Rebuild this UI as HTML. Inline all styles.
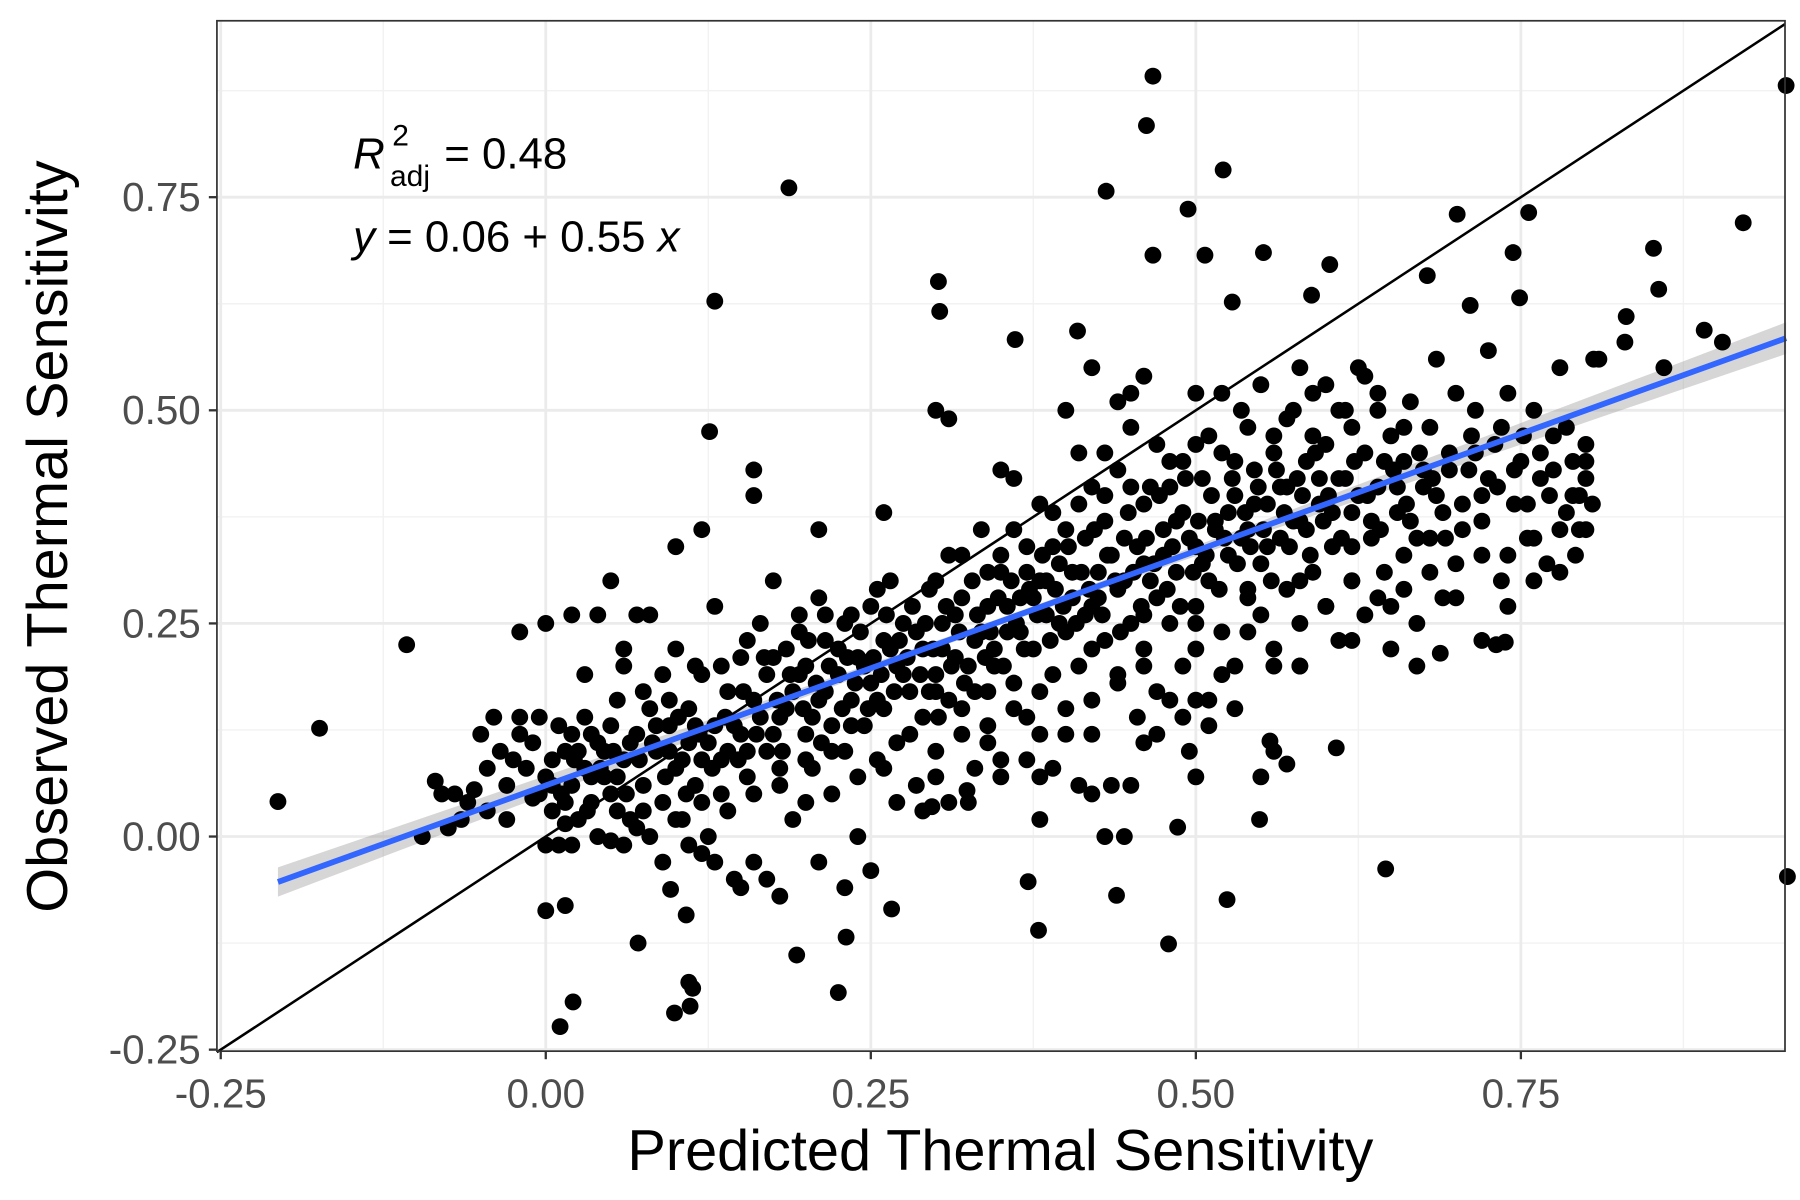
<!DOCTYPE html>
<html><head><meta charset="utf-8">
<style>
html,body{margin:0;padding:0;background:#fff;}
svg{display:block;font-family:"Liberation Sans",Arial,sans-serif;}
</style></head>
<body>
<svg id="chart" width="1800" height="1200" viewBox="0 0 1560 1040" xmlns="http://www.w3.org/2000/svg">
<rect x="0" y="0" width="1560" height="1040" fill="#fff"/>
<g id="grid"></g>
<g id="ribbon"></g>
<g id="points"></g>
<g id="lines"></g>
<rect x="188" y="18" width="1359" height="893" fill="none" stroke="#333" stroke-width="1.5"/>
<g id="axes"></g>
<text x="867" y="1014" font-size="50" text-anchor="middle" fill="#000">Predicted Thermal Sensitivity</text>
<text transform="translate(58,465) rotate(-90)" font-size="50" text-anchor="middle" fill="#000">Observed Thermal Sensitivity</text>
<g font-size="38" fill="#000">
<text x="306" y="146" font-style="italic">R</text>
<text x="340" y="126" font-size="26">2</text>
<text x="338" y="161" font-size="26">adj</text>
<text x="385" y="146">= 0.48</text>
</g>
<text x="306" y="218" font-size="38" fill="#000"><tspan font-style="italic">y</tspan> = 0.06 + 0.55 <tspan font-style="italic">x</tspan></text>
</svg>
<script>
const xTicks = [-0.25, 0, 0.25, 0.5, 0.75];
const xTickLabels = ["-0.25", "0.00", "0.25", "0.50", "0.75"];
const yTicks = [-0.25, 0, 0.25, 0.5, 0.75];
const yTickLabels = ["-0.25", "0.00", "0.25", "0.50", "0.75"];
const fitIntercept = 0.06;
const fitSlope = 0.55;
const fitRange = [-0.206, 0.954];
const ptX = [-0.206,-0.174,-0.107,0.187,0.130,0.126,0.467,0.462,0.521,0.431,0.494,0.467,0.507,0.552,0.302,0.303,0.701,0.756,0.921,0.852,0.954,0.955,0.646,0.479,0.524,0.379,0.371,0.439,0.011,0.021,0.099,0.111,0.110,0.113,0.193,0.225,0.071,0.000,0.015,0.231,0.266,0.108,0.096,0.603,0.528,0.589,0.711,0.749,0.744,0.361,0.409,0.831,0.806,0.891,0.905,0.856,0.678,0.608,0.549,0.486,0.557,0.570,0.550,0.324,0.297,0.688,0.731,0.738,
-0.095,-0.085,-0.075,-0.07,-0.06,-0.055,-0.05,-0.045,-0.04,-0.035,-0.03,-0.03,-0.02,-0.02,-0.015,-0.01,-0.01,-0.005,0.0,0.0,0.005,0.005,0.01,0.01,0.015,0.02,0.02,0.025,0.03,0.03,0.035,0.04,0.04,0.045,0.05,0.05,0.055,0.06,0.06,0.065,0.07,0.07,0.075,0.08,0.08,0.085,0.09,0.09,0.095,0.1,0.1,0.105,0.11,0.11,0.115,0.12,0.12,0.125,0.13,0.13,0.135,0.14,0.14,0.145,0.15,0.15,0.155,0.16,0.16,0.165,0.17,0.17,0.175,0.18,0.18,0.185,0.19,0.19,0.195,0.2,0.2,0.205,0.21,0.21,0.215,0.22,0.22,0.225,0.23,0.23,0.235,0.24,0.24,0.245,0.25,0.25,0.255,0.26,0.26,0.265,0.27,0.27,0.275,0.28,0.285,0.29,0.29,0.295,0.3,0.3,0.305,0.31,0.31,0.315,0.32,0.32,0.325,0.33,0.33,0.335,0.34,0.34,0.345,0.35,0.35,0.355,0.36,0.36,0.365,0.37,0.37,0.375,0.38,0.38,0.385,0.39,0.39,0.395,0.4,0.4,0.405,0.41,0.41,0.415,0.42,0.42,0.425,0.43,0.43,0.435,0.44,0.44,0.445,0.45,0.45,0.455,0.46,0.46,0.465,0.47,0.47,0.475,0.48,0.48,0.485,0.49,0.49,0.495,0.5,0.5,0.505,0.51,0.51,0.515,0.52,0.52,0.525,0.53,0.53,0.535,0.54,0.54,0.545,0.55,0.55,0.555,0.56,0.56,0.565,0.57,0.57,0.575,0.58,0.58,0.585,0.59,0.59,0.595,0.6,0.6,0.605,0.61,0.61,0.615,0.62,0.62,0.625,0.63,0.63,0.635,0.64,0.64,0.645,0.65,0.65,0.655,0.66,0.66,0.665,0.67,0.67,0.675,0.68,0.68,0.685,0.69,0.695,0.7,0.7,0.705,0.71,0.715,0.72,0.72,0.725,0.73,0.735,0.74,0.745,0.75,0.755,0.76,0.765,0.77,0.775,0.78,0.785,0.79,0.795,0.8,0.8,0.81,0.83,0.86,
0.012,0.022,0.032,0.042,0.052,0.062,0.072,0.082,0.092,0.102,0.108,0.118,0.128,0.138,0.148,0.152,0.162,0.168,0.178,0.182,0.188,0.198,0.202,0.208,0.212,0.218,0.228,0.232,0.238,0.242,0.248,0.252,0.258,0.262,0.268,0.272,0.278,0.282,0.288,0.292,0.298,0.302,0.308,0.312,0.318,0.322,0.328,0.332,0.338,0.342,0.348,0.352,0.358,0.362,0.368,0.372,0.378,0.382,0.388,0.392,0.398,0.402,0.408,0.412,0.418,0.422,0.428,0.432,0.438,0.442,0.448,0.452,0.458,0.462,0.468,0.472,0.478,0.482,0.488,0.492,0.498,0.502,0.508,0.512,0.518,0.522,0.528,0.532,0.538,0.542,0.548,0.552,0.558,0.562,0.568,0.572,0.578,0.582,0.588,0.592,0.598,0.602,0.612,0.622,0.632,0.642,0.652,0.662,0.672,0.682,0.692,0.712,0.732,0.752,0.772,0.792,0.805,
0.45,0.47,0.5,0.53,0.56,0.58,0.62,0.65,0.67,0.69,0.72,0.74,0.76,0.78,0.8,0.79,
0.1,0.12,0.16,0.16,0.21,0.26,0.3,0.31,0.35,0.4,0.43,0.44,0.45,0.5,0.46,0.42,0.04,0.05,0.08,0.06,0.03,-0.02,0.0,0.02,
0.02,0.06,0.09,0.12,0.13,0.15,0.17,0.18,0.2,0.21,0.23,0.25,0.27,0.29,0.31,0.33,0.35,0.37,0.39,0.38,0.41,0.42,0.43,0.445,0.46,0.49,0.51,0.5,
0.005,0.015,0.025,0.035,0.045,0.055,0.065,0.075,0.085,0.095,0.105,0.115,0.125,0.135,0.145,0.155,0.165,0.175,0.185,0.195,0.205,0.215,0.225,0.235,0.245,0.255,0.265,0.275,0.285,0.295,0.305,0.315,0.325,0.335,0.345,0.355,0.365,0.375,0.385,0.395,0.405,0.415,0.425,0.435,0.445,0.455,0.465,0.475,0.485,0.495,0.505,0.515,0.525,0.535,0.545,0.555,0.565,0.575,0.585,0.595,0.605,0.615,0.625,0.635,0.645,0.655,0.665,0.675,0.685,0.695,0.705,0.715,0.725,0.735,0.745,0.755,0.765,0.775,0.785,0.795,
0.3,0.32,0.34,0.36,0.38,0.4,0.42,0.44,0.46,0.47,0.49,0.51,0.53,0.54,0.56,0.57,0.59,0.61,0.62,0.64,0.66,0.52,0.55,0.58,0.6,0.63,0.5,0.48,0.45,0.43,0.41,0.39,0.37,0.35,
0.26,0.28,0.3,0.32,0.34,0.36,0.38,0.4,0.42,0.44,0.46,0.48,0.5,0.52,0.54,0.56,0.58,0.6,0.62,0.64,0.66,0.68,0.7,0.72,0.74,0.76,0.78,0.8,0.3,0.34,0.38,0.42,0.46,0.5,0.54,0.58,0.62,
-0.08,-0.065,-0.045,-0.025,-0.005,0.015,0.035,0.055,0.075,0.095,0.115,0.135,0.155,0.175,0.195,0.215,0.235,0.255,0.1,0.12,0.14,0.16,0.18,0.2,0.22,0.24,0.05,0.07,0.11];
const ptY = [0.041,0.127,0.225,0.761,0.628,0.475,0.892,0.834,0.782,0.757,0.736,0.682,0.682,0.685,0.651,0.616,0.730,0.732,0.720,0.690,0.881,-0.047,-0.038,-0.126,-0.074,-0.110,-0.053,-0.069,-0.223,-0.194,-0.207,-0.199,-0.171,-0.178,-0.139,-0.183,-0.125,-0.087,-0.081,-0.118,-0.085,-0.092,-0.062,0.671,0.627,0.635,0.623,0.632,0.685,0.583,0.593,0.610,0.560,0.594,0.580,0.642,0.658,0.104,0.020,0.011,0.112,0.085,0.070,0.054,0.035,0.215,0.225,0.228,
0.0,0.065,0.01,0.05,0.04,0.055,0.12,0.03,0.14,0.1,0.02,0.06,0.14,0.12,0.08,0.11,0.045,0.14,0.07,-0.01,0.09,0.03,0.13,-0.01,0.1,0.12,0.06,0.02,0.14,0.08,0.04,0.11,0.0,0.07,0.13,0.05,0.16,0.2,0.09,0.02,0.12,0.26,0.06,0.15,0.0,0.1,0.19,0.04,0.13,0.08,0.22,0.02,0.15,0.11,0.06,0.19,0.09,0.0,0.13,0.27,0.05,0.17,0.1,-0.05,0.21,0.12,0.07,0.16,-0.03,0.25,0.1,0.19,0.3,0.06,0.14,0.22,0.17,0.02,0.26,0.12,0.2,0.08,0.16,0.28,0.23,0.13,0.05,0.19,0.25,0.1,0.16,0.21,0.0,0.13,0.27,0.18,0.09,0.23,0.15,0.3,0.2,0.11,0.25,0.17,0.06,0.22,0.14,0.29,0.19,0.1,0.25,0.33,0.16,0.21,0.12,0.28,0.04,0.23,0.17,0.36,0.27,0.13,0.2,0.31,0.09,0.24,0.18,0.42,0.28,0.14,0.34,0.22,0.3,0.07,0.26,0.19,0.38,0.32,0.24,0.12,0.28,0.45,0.2,0.35,0.27,0.16,0.31,0.23,0.4,0.06,0.29,0.19,0.35,0.25,0.48,0.14,0.32,0.22,0.41,0.28,0.17,0.36,0.25,0.44,0.31,0.2,0.38,0.1,0.34,0.27,0.42,0.3,0.16,0.37,0.45,0.24,0.33,0.4,0.2,0.5,0.29,0.36,0.43,0.26,0.32,0.39,0.47,0.22,0.35,0.41,0.29,0.5,0.37,0.2,0.44,0.31,0.52,0.39,0.27,0.46,0.34,0.42,0.23,0.5,0.3,0.38,0.55,0.45,0.26,0.35,0.41,0.52,0.31,0.47,0.22,0.38,0.29,0.44,0.51,0.35,0.25,0.41,0.48,0.31,0.56,0.38,0.45,0.28,0.52,0.36,0.43,0.5,0.33,0.4,0.57,0.46,0.3,0.52,0.39,0.44,0.35,0.5,0.42,0.32,0.47,0.55,0.38,0.44,0.36,0.42,0.46,0.56,0.58,0.55,
0.05,0.09,0.03,0.08,0.1,0.05,0.09,0.11,0.07,0.14,0.05,0.12,0.08,0.14,0.09,0.17,0.12,0.21,0.16,0.1,0.19,0.15,0.23,0.18,0.11,0.2,0.15,0.21,0.18,0.24,0.15,0.21,0.19,0.26,0.17,0.23,0.21,0.27,0.19,0.25,0.22,0.14,0.27,0.2,0.24,0.18,0.3,0.26,0.21,0.24,0.28,0.2,0.3,0.25,0.22,0.29,0.26,0.33,0.23,0.29,0.27,0.34,0.25,0.31,0.29,0.36,0.26,0.33,0.3,0.24,0.38,0.31,0.27,0.35,0.32,0.4,0.29,0.34,0.27,0.42,0.31,0.37,0.33,0.4,0.29,0.35,0.42,0.32,0.38,0.34,0.41,0.36,0.3,0.43,0.38,0.34,0.42,0.4,0.33,0.45,0.37,0.4,0.35,0.44,0.4,0.36,0.43,0.39,0.45,0.42,0.35,0.47,0.41,0.47,0.4,0.33,0.39,
0.06,0.12,0.07,0.15,0.1,0.2,0.23,0.27,0.2,0.28,0.23,0.27,0.35,0.31,0.36,0.4,
0.34,0.36,0.4,0.43,0.36,0.38,0.5,0.49,0.43,0.5,0.45,0.51,0.52,0.52,0.54,0.55,0.26,0.3,0.26,0.22,0.19,0.24,0.25,0.26,
-0.01,-0.01,-0.03,-0.02,-0.03,-0.06,-0.05,-0.07,0.04,-0.03,-0.06,-0.04,0.04,0.03,0.04,0.08,0.07,0.09,0.08,0.02,0.06,0.05,0.0,0.0,0.11,0.14,0.13,0.16,
0.06,0.04,0.1,0.07,0.1,0.07,0.11,0.03,0.13,0.1,0.09,0.13,0.11,0.09,0.13,0.1,0.14,0.12,0.15,0.19,0.14,0.17,0.22,0.13,0.2,0.16,0.22,0.19,0.24,0.17,0.22,0.26,0.2,0.24,0.22,0.27,0.24,0.28,0.3,0.25,0.31,0.26,0.28,0.33,0.3,0.34,0.3,0.33,0.37,0.35,0.32,0.36,0.38,0.35,0.39,0.34,0.41,0.37,0.36,0.42,0.38,0.42,0.4,0.37,0.44,0.41,0.37,0.43,0.4,0.43,0.39,0.45,0.42,0.48,0.43,0.39,0.45,0.43,0.48,0.4,
0.3,0.33,0.31,0.36,0.39,0.36,0.41,0.43,0.39,0.46,0.44,0.47,0.44,0.48,0.45,0.49,0.47,0.5,0.48,0.5,0.48,0.52,0.53,0.55,0.53,0.54,0.46,0.41,0.41,0.37,0.39,0.34,0.31,0.33,
0.08,0.12,0.07,0.15,0.17,0.15,0.17,0.15,0.12,0.18,0.2,0.16,0.22,0.19,0.24,0.2,0.25,0.27,0.3,0.28,0.33,0.35,0.32,0.37,0.33,0.3,0.36,0.44,0.17,0.11,0.12,0.22,0.26,0.25,0.28,0.3,0.34,
0.05,0.02,0.08,0.09,0.05,0.015,0.12,0.03,0.17,0.16,0.2,0.2,0.23,0.21,0.24,0.26,0.26,0.29,0.02,0.04,0.03,0.05,0.08,0.09,0.1,0.07,-0.005,0.01,-0.01];

const X0=473, XS=1126.8, Y0=725, YS=738.8;
function sx(v){return X0+v*XS;}
function sy(v){return Y0-v*YS;}
const NS="http://www.w3.org/2000/svg";
function mk(tag,attrs,parent){const e=document.createElementNS(NS,tag);for(const k in attrs)e.setAttribute(k,attrs[k]);parent.appendChild(e);return e;}

const grid=document.getElementById('grid');
const axes=document.getElementById('axes');
for(let i=0;i<xTicks.length;i++){
  const m=xTicks[i]+0.125;
  if(sx(m)<1547){const l=mk('line',{x1:sx(m),x2:sx(m),y1:18,y2:911,stroke:'#f2f2f2','stroke-width':1.2},grid);
  
  }
}
for(let i=0;i<yTicks.length;i++){
  const m=yTicks[i]+0.125;
  if(sy(m)>18){const l=mk('line',{x1:188,x2:1547,y1:sy(m),y2:sy(m),stroke:'#f2f2f2','stroke-width':1.2},grid);
  
  }
}
for(let i=0;i<xTicks.length;i++){
  const x=sx(xTicks[i]);
  const g=mk('line',{x1:x,x2:x,y1:18,y2:911,stroke:'#ebebeb','stroke-width':2.4},grid);
  
  
  const t=mk('line',{x1:x,x2:x,y1:911,y2:918,stroke:'#333','stroke-width':2},axes);
  
  
  const lb=mk('text',{x:x,y:960,'font-size':35,'text-anchor':'middle',fill:'#4d4d4d'},axes);
  lb.textContent=xTickLabels[i];
  
  
}
for(let i=0;i<yTicks.length;i++){
  const y=sy(yTicks[i]);
  const g=mk('line',{x1:188,x2:1547,y1:y,y2:y,stroke:'#ebebeb','stroke-width':2.4},grid);
  
  
  const t=mk('line',{x1:181,x2:188,y1:y,y2:y,stroke:'#333','stroke-width':2},axes);
  
  
  const lb=mk('text',{x:174,y:y+12,'font-size':35,'text-anchor':'end',fill:'#4d4d4d'},axes);
  lb.textContent=yTickLabels[i];
  
  
}
const rib=document.getElementById('ribbon');
let up=[],dn=[];
for(let k=0;k<=40;k++){
  const x=fitRange[0]+(fitRange[1]-fitRange[0])*k/40;
  const yv=fitIntercept+fitSlope*x;
  const h=Math.sqrt(0.004*0.004+Math.pow(0.03*(x-0.35),2));
  up.push(sx(x)+','+sy(yv+h));dn.unshift(sx(x)+','+sy(yv-h));
}
const rp=mk('polygon',{points:up.concat(dn).join(' '),fill:'#999',opacity:0.4},rib);


const pg=document.getElementById('points');
for(let i=0;i<ptX.length;i++){
  const c=mk('circle',{cx:sx(ptX[i]),cy:sy(ptY[i]),r:7.3,fill:'#000'},pg);
  
  
}
const lg=document.getElementById('lines');
const one=mk('line',{x1:sx(-0.253),y1:sy(-0.253),x2:sx(0.953),y2:sy(0.953),stroke:'#000','stroke-width':2.2},lg);


const fit=mk('line',{x1:sx(fitRange[0]),y1:sy(fitIntercept+fitSlope*fitRange[0]),x2:sx(fitRange[1]),y2:sy(fitIntercept+fitSlope*fitRange[1]),stroke:'#3366ff','stroke-width':5},lg);


</script>
</body></html>
